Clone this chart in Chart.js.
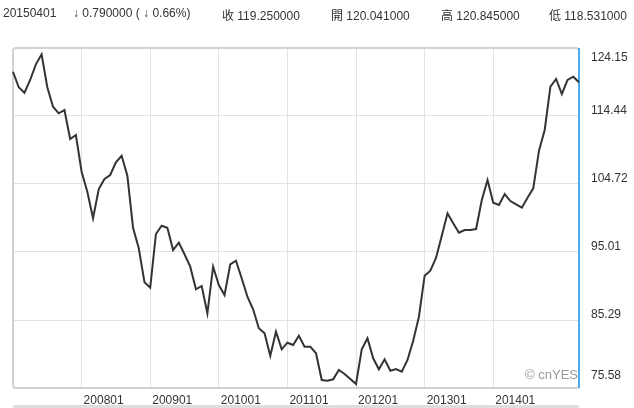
<!DOCTYPE html>
<html>
<head>
<meta charset="utf-8">
<script src="https://cdn.jsdelivr.net/npm/chart.js@4/dist/chart.umd.min.js"></script>
<style>
  body { margin: 0; background: #fff; }
  #wrap { position: relative; width: 634px; height: 408px; overflow: hidden; }
  #header { position: absolute; left: 0; top: 6px; width: 634px; height: 16px;
            font: 12px Arial, "Liberation Sans", "Noto Sans CJK TC", sans-serif; color: #333; }
  #header span { position: absolute; top: 0; white-space: nowrap; }
  #chart { position: absolute; left: 0; top: 0; }
</style>
</head>
<body>
<div id="wrap">
  <canvas id="chart" width="634" height="408"></canvas>
  <div id="header"></div>
</div>
<script>
// quote line on top
const quoteTexts = ["20150401", "\u2193 0.790000 ( \u2193 0.66%)", "收 119.250000", "開 120.041000", "高 120.845000", "低 118.531000"];
const quoteLeft = [3, 73, 222, 331, 441, 549];

// monthly categories 200701 .. 201504
const months = [
  "200701","200702","200703","200704","200705","200706","200707","200708","200709","200710","200711","200712",
  "200801","200802","200803","200804","200805","200806","200807","200808","200809","200810","200811","200812",
  "200901","200902","200903","200904","200905","200906","200907","200908","200909","200910","200911","200912",
  "201001","201002","201003","201004","201005","201006","201007","201008","201009","201010","201011","201012",
  "201101","201102","201103","201104","201105","201106","201107","201108","201109","201110","201111","201112",
  "201201","201202","201203","201204","201205","201206","201207","201208","201209","201210","201211","201212",
  "201301","201302","201303","201304","201305","201306","201307","201308","201309","201310","201311","201312",
  "201401","201402","201403","201404","201405","201406","201407","201408","201409","201410","201411","201412",
  "201501","201502","201503","201504"
];

const closes = [
  120.76, 118.54, 117.76, 119.58, 121.82, 123.25, 118.54, 115.76, 114.82, 115.29, 111.15, 111.72,
  106.48, 103.62, 99.82, 104.01, 105.44, 106.01, 107.82, 108.76, 105.91, 98.48, 95.54, 90.68,
  89.91, 97.58, 98.76, 98.48, 95.29, 96.34, 94.68, 92.91, 89.68, 90.15, 86.25, 92.91,
  90.29, 88.86, 93.25, 93.76, 91.25, 88.62, 86.82, 84.11, 83.39, 80.19, 83.62, 81.11,
  82.05, 81.72, 83.05, 81.48, 81.48, 80.54, 76.72, 76.62, 76.82, 78.15, 77.58, 76.86,
  76.15, 81.11, 82.68, 79.82, 78.25, 79.68, 78.05, 78.29, 77.91, 79.58, 82.34, 85.76,
  91.62, 92.34, 94.19, 97.34, 100.54, 99.11, 97.76, 98.15, 98.15, 98.29, 102.44, 105.29,
  102.05, 101.72, 103.29, 102.29, 101.82, 101.34, 102.76, 104.11, 109.48, 112.44, 118.62, 119.72,
  117.58, 119.58, 120.05, 119.25
];

const xTickLabels = ["200801", "200901", "201001", "201101", "201201", "201301", "201401"];
const yTickLabels = ["75.58", "85.29", "95.01", "104.72", "114.44", "124.15"];
const yMin = 75.58;
const yMax = 124.15;

const header = document.getElementById("header");
quoteTexts.forEach((t, i) => {
  const s = document.createElement("span");
  s.textContent = t;
  s.style.left = quoteLeft[i] + "px";
  header.appendChild(s);
});

const framePlugin = {
  id: "frame",
  beforeDatasetsDraw(chart) {
    const { ctx, chartArea: a } = chart;
    ctx.save();
    ctx.strokeStyle = "#d2d2d2";
    ctx.lineWidth = 2;
    ctx.beginPath();
    ctx.roundRect(a.left, a.top, a.right - a.left, a.bottom - a.top, 3);
    ctx.stroke();
    // strip under the dates
    ctx.fillStyle = "#dedede";
    ctx.fillRect(a.left, 405, a.right - a.left, 3);
    // watermark
    ctx.fillStyle = "#999999";
    ctx.font = "13px Arial, 'Liberation Sans', sans-serif";
    ctx.textAlign = "right";
    ctx.textBaseline = "middle";
    ctx.fillText("\u00a9 cnYES", a.right - 1, a.bottom - 13);
    // blue right edge
    ctx.strokeStyle = "#4fa9ea";
    ctx.lineWidth = 2;
    ctx.beginPath();
    ctx.moveTo(a.right, a.top);
    ctx.lineTo(a.right, a.bottom);
    ctx.stroke();
    ctx.restore();
  }
};

new Chart(document.getElementById("chart"), {
  type: "line",
  data: {
    labels: months,
    datasets: [{
      data: closes,
      borderColor: "#333333",
      borderWidth: 2,
      pointRadius: 0,
      tension: 0,
      fill: false
    }]
  },
  options: {
    responsive: false,
    animation: false,
    layout: { padding: { left: 13, top: 48, right: 0, bottom: 0 } },
    plugins: { legend: { display: false }, tooltip: { enabled: false } },
    scales: {
      x: {
        offset: false,
        afterFit: (s) => { s.height = 20; s.paddingLeft = 0; s.paddingRight = 0; },
        grid: {
          drawTicks: false,
          color: (c) => (c.tick && xTickLabels.includes(months[c.index])) ? "#e2e2e2" : "rgba(0,0,0,0)"
        },
        border: { display: false },
        ticks: {
          autoSkip: false,
          maxRotation: 0,
          align: "start",
          labelOffset: 2,
          padding: 5,
          color: "#333",
          font: { family: "Arial, 'Liberation Sans', sans-serif", size: 12 },
          callback: (v, i) => xTickLabels.includes(months[i]) ? months[i] : ""
        }
      },
      y: {
        position: "right",
        min: yMin,
        max: yMax,
        afterFit: (s) => { s.width = 55; s.paddingTop = 0; s.paddingBottom = 0; },
        afterBuildTicks: (s) => {
          const t = [];
          for (let k = 0; k <= 10; k++) t.push({ value: yMin + k * (yMax - yMin) / 10 });
          s.ticks = t;
        },
        grid: { drawTicks: false, color: "#e2e2e2" },
        border: { display: false },
        ticks: {
          padding: 12,
          crossAlign: "near",
          labelOffset: -5,
          color: "#333",
          font: { family: "Arial, 'Liberation Sans', sans-serif", size: 12 },
          callback: (v, i) => {
            if (i % 2 !== 0) return "";
            const lbl = yTickLabels[i / 2];
            // keep the end labels inside the plot like the original
            if (i === 10) return ["", "", lbl];
            if (i === 0) return [lbl, ""];
            return lbl;
          }
        }
      }
    }
  },
  plugins: [framePlugin]
});
</script>
</body>
</html>
